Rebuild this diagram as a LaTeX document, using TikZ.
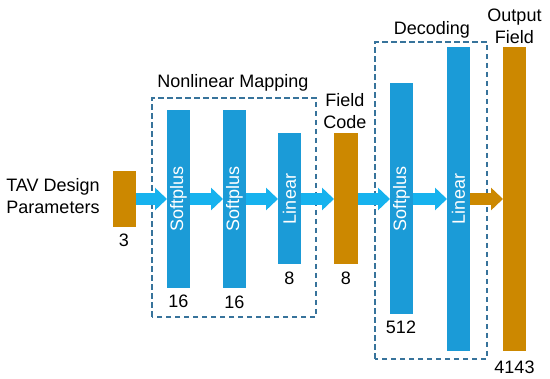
\documentclass[tikz,border=0pt]{standalone}
\usepackage{fontspec}
\setmainfont{Liberation Sans}
\usetikzlibrary{arrows.meta}
\definecolor{barblue}{RGB}{27,155,215}
\definecolor{arrblue}{RGB}{22,178,238}
\definecolor{gold}{RGB}{204,136,0}
\definecolor{dashc}{RGB}{55,115,155}
\begin{document}
\begin{tikzpicture}[x=1pt,y=1pt,
  every node/.style={font=\fontsize{18}{22}\selectfont, inner sep=0pt, outer sep=0pt},
  bar/.style={fill=barblue, minimum width=23, rotate=90, text=white, align=center},
  goldbar/.style={fill=gold, minimum width=23},
  grp/.style={draw=dashc, line width=1.3, dash pattern=on 5.5 off 3.5},
  blockarrow/.style={draw=arrblue, line width=12, -{Triangle[width=22pt,length=12pt]}},
  goldarrow/.style={blockarrow, draw=gold}]
\useasboundingbox (0,0) rectangle (550,379);
% dashed groups
\draw[grp] (152,62) rectangle (316,281);
\draw[grp] (375,20) rectangle (487,337);
% blocks
\node[goldbar, minimum height=56] (tav) at (124.5,180) {};
\node[bar, minimum width=178, minimum height=23] (sp1) at (178.5,180) {Softplus};
\node[bar, minimum width=178, minimum height=23] (sp2) at (234.5,180) {Softplus};
\node[bar, minimum width=131, minimum height=23] (lin1) at (289.5,180) {Linear};
\node[goldbar, minimum width=24, minimum height=131] (fc) at (346,180) {};
\node[bar, minimum width=231, minimum height=23] (sp3) at (401.5,180) {Softplus};
\node[bar, minimum width=304, minimum height=23] (lin2) at (458.5,180) {Linear};
\node[goldbar, minimum height=304] (out) at (514.5,180) {};
% texts
\node[align=center] (tavt) at (53,183) {TAV Design\\Parameters};
\node (n3) at (124,139) {3};
\node (n16a) at (178.5,78) {16};
\node (n16b) at (234.5,77) {16};
\node (n8a) at (289.5,101) {8};
\node (n8b) at (346,101) {8};
\node (n512) at (401,52) {512};
\node (n4143) at (514.5,12) {4143};
\node (nlm) at (233,296) {Nonlinear Mapping};
\node[align=center] (fct) at (345,268) {Field\\Code};
\node (dec) at (432,349) {Decoding};
\node[align=center] (outt) at (514.5,353) {Output\\Field};
% arrows
\draw[blockarrow] (tav.east) -- (sp1.north);
\draw[blockarrow] (sp1.south) -- (sp2.north);
\draw[blockarrow] (sp2.south) -- (lin1.north);
\draw[blockarrow] (lin1.south) -- (fc.west);
\draw[blockarrow] (fc.east) -- (sp3.north);
\draw[blockarrow] (sp3.south) -- (lin2.north);
\draw[goldarrow] (lin2.south) -- (out.west);
\end{tikzpicture}
\end{document}
